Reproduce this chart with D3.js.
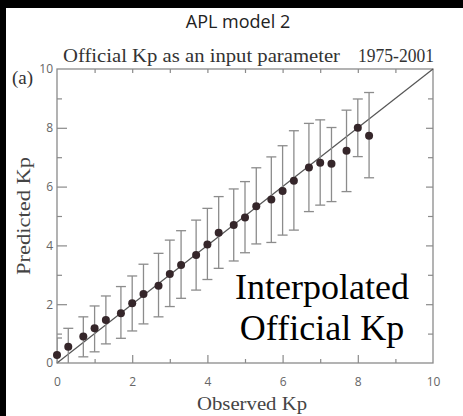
<!DOCTYPE html>
<html><head><meta charset="utf-8">
<script src="https://cdn.jsdelivr.net/npm/d3@7"></script>
<style>body{margin:0;background:#000}svg{display:block}</style>
</head><body>
<script>
const observedKp = [0,0.3,0.7,1.0,1.3,1.7,2.0,2.3,2.7,3.0,3.3,3.7,4.0,4.3,4.7,5.0,5.3,5.7,6.0,6.3,6.7,7.0,7.3,7.7,8.0,8.3];
const predictedKp = [0.27,0.55,0.9,1.18,1.46,1.69,2.03,2.35,2.63,3.03,3.33,3.67,4.03,4.43,4.69,4.95,5.33,5.56,5.85,6.2,6.65,6.81,6.78,7.22,8.0,7.73];
const errLow = [-0.35,-0.1,0.21,0.38,0.65,0.84,1.09,1.33,1.57,1.92,2.2,2.48,2.84,3.22,3.47,3.75,4.05,4.1,4.35,4.52,5.15,5.37,5.49,5.83,7.02,6.3];
const errHigh = [0.85,1.18,1.57,1.94,2.28,2.6,2.96,3.36,3.73,4.18,4.5,4.86,5.26,5.66,5.92,6.17,6.64,7.01,7.39,7.9,8.15,8.27,8.01,8.6,8.98,9.2];
const majorTicks = [0,2,4,6,8,10];
const minorTicks = [1,3,5,7,9];
const allTicks = [0,1,2,3,4,5,6,7,8,9,10];
const titleText = "APL model 2";
const subtitleLeft = "Official Kp as an input parameter";
const subtitleRight = "1975-2001";
const xLabel = "Observed Kp";
const yLabel = "Predicted Kp";
const panelLabel = "(a)";
const noteLines = ["Interpolated", "Official Kp"];

const W = 463, H = 416;
const L = 57, R = 433, T = 69, B = 363;
const svg = d3.select("body").append("svg").attr("width", W).attr("height", H);
svg.append("rect").attr("width", W).attr("height", H).attr("fill", "#000");
svg.append("rect").attr("x", 6).attr("y", 8).attr("width", W - 6).attr("height", H - 8).attr("fill", "#fff");

const x = d3.scaleLinear().domain([0, 10]).range([L, R]);
const y = d3.scaleLinear().domain([0, 10]).range([B, T]);

const axisColor = "#8a8a8a";
const sans = "'Open Sans', sans-serif";
const serif = "'Liberation Serif', serif";

// frame
svg.append("rect").attr("x", L).attr("y", T).attr("width", R - L).attr("height", B - T)
  .attr("fill", "none").attr("stroke", axisColor).attr("stroke-width", 1.3);

function styleAxis(g) {
  g.select(".domain").remove();
  g.selectAll(".tick line").attr("stroke", axisColor).attr("stroke-width", 1.2);
  g.selectAll(".tick text").attr("fill", "#666").attr("font-family", sans).attr("font-size", 12);
}
// bottom axis: ticks inward
const gB = svg.append("g").attr("transform", `translate(0,${B})`)
  .call(d3.axisBottom(x).tickValues(allTicks).tickFormat(d => majorTicks.includes(d) ? d : "")
    .tickSizeInner(0).tickPadding(14));
styleAxis(gB);
gB.selectAll(".tick line").attr("y2", d => (d === 0 || d === 10) ? 0 : (majorTicks.includes(d) ? -8 : -4));
// left axis
const gL = svg.append("g").attr("transform", `translate(${L},0)`)
  .call(d3.axisLeft(y).tickValues(allTicks).tickFormat(d => majorTicks.includes(d) ? d : "")
    .tickSizeInner(0).tickPadding(4));
styleAxis(gL);
gL.selectAll(".tick line").attr("x2", d => (d === 0 || d === 10) ? 0 : (majorTicks.includes(d) ? 10 : 5));
// top axis
const gT = svg.append("g").attr("transform", `translate(0,${T})`)
  .call(d3.axisTop(x).tickValues(allTicks.filter(d => d > 0 && d < 10)).tickFormat("").tickSizeInner(0));
styleAxis(gT);
gT.selectAll(".tick line").attr("y2", 4);
// right axis
const gR = svg.append("g").attr("transform", `translate(${R},0)`)
  .call(d3.axisRight(y).tickValues(allTicks.filter(d => d > 0 && d < 10)).tickFormat("").tickSizeInner(0));
styleAxis(gR);
gR.selectAll(".tick line").attr("x2", d => majorTicks.includes(d) ? -7 : -5);

// diagonal
svg.append("line").attr("x1", x(0)).attr("y1", y(0)).attr("x2", x(10)).attr("y2", y(10))
  .attr("stroke", "#555").attr("stroke-width", 1.2);

// clip
svg.append("clipPath").attr("id", "plotclip").append("rect")
  .attr("x", L).attr("y", T).attr("width", R - L).attr("height", B - T);

const data = observedKp.map((v, i) => ({x: v, y: predictedKp[i], lo: errLow[i], hi: errHigh[i]}));
const eb = svg.append("g").attr("clip-path", "url(#plotclip)").attr("stroke", "#8c8c8c").attr("stroke-width", 1.3);
const cap = 5;
data.forEach(d => {
  eb.append("line").attr("x1", x(d.x)).attr("x2", x(d.x)).attr("y1", y(d.lo)).attr("y2", y(d.hi));
  eb.append("line").attr("x1", x(d.x) - cap).attr("x2", x(d.x) + cap).attr("y1", y(d.hi)).attr("y2", y(d.hi));
  eb.append("line").attr("x1", x(d.x) - cap).attr("x2", x(d.x) + cap).attr("y1", y(d.lo)).attr("y2", y(d.lo));
});
svg.append("g").selectAll("circle").data(data).join("circle")
  .attr("cx", d => x(d.x)).attr("cy", d => y(d.y)).attr("r", 4).attr("fill", "#35262a");

// texts
svg.append("text").attr("x", 238).attr("y", 28).attr("text-anchor", "middle")
  .attr("font-family", sans).attr("font-size", 18).attr("fill", "#222").text(titleText);
svg.append("text").attr("x", 63).attr("y", 62).attr("font-family", serif).attr("font-size", 19)
  .attr("fill", "#333").attr("textLength", 277).attr("lengthAdjust", "spacingAndGlyphs").text(subtitleLeft);
svg.append("text").attr("x", 358).attr("y", 62).attr("font-family", serif).attr("font-size", 19)
  .attr("fill", "#333").attr("textLength", 76).attr("lengthAdjust", "spacingAndGlyphs").text(subtitleRight);
svg.append("text").attr("x", 12).attr("y", 84).attr("font-family", serif).attr("font-size", 19)
  .attr("fill", "#333").text(panelLabel);
svg.append("text").attr("x", 252).attr("y", 410).attr("text-anchor", "middle").attr("font-family", serif)
  .attr("font-size", 19).attr("fill", "#444").attr("textLength", 110).attr("lengthAdjust", "spacingAndGlyphs").text(xLabel);
svg.append("text").attr("transform", `translate(30,${(T + B) / 2}) rotate(-90)`).attr("text-anchor", "middle")
  .attr("font-family", serif).attr("font-size", 19).attr("fill", "#444")
  .attr("textLength", 118).attr("lengthAdjust", "spacingAndGlyphs").text(yLabel);
noteLines.forEach((t, i) => {
  svg.append("text").attr("x", 322).attr("y", 299 + i * 41).attr("text-anchor", "middle")
    .attr("font-family", serif).attr("font-size", 36).attr("fill", "#000").text(t);
});
</script>
</body></html>
